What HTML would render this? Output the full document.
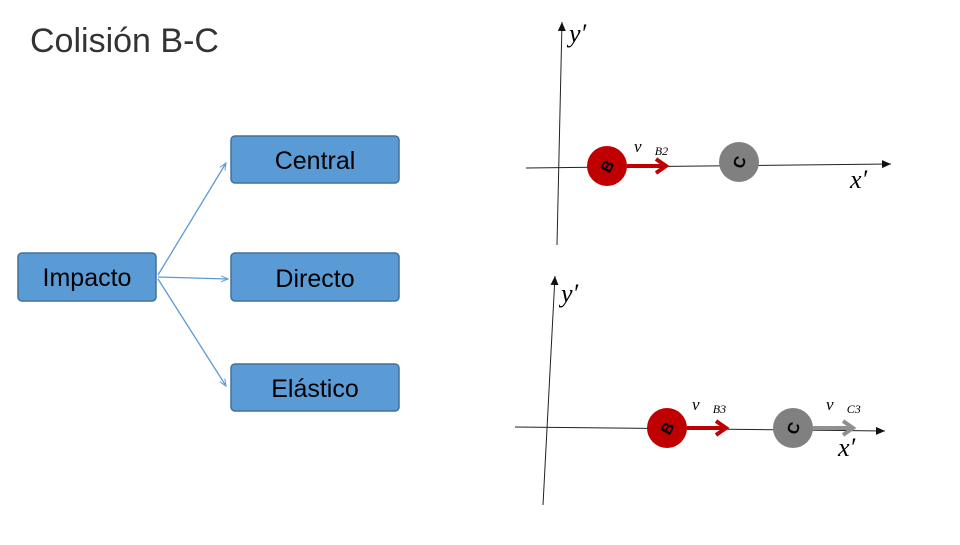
<!DOCTYPE html>
<html><head><meta charset="utf-8"><style>
body{margin:0;width:960px;height:540px;background:#fff;overflow:hidden;font-family:"Liberation Sans",sans-serif}
</style></head><body>
<svg width="960" height="540" viewBox="0 0 960 540" xmlns="http://www.w3.org/2000/svg">
<defs>
<marker id="a" markerWidth="8" markerHeight="8" refX="7" refY="4" orient="auto" markerUnits="userSpaceOnUse"><path d="M0,1 L7,4 L0,7" fill="none" stroke="#5b9bd5" stroke-width="1"/></marker>
<marker id="k" markerWidth="10" markerHeight="8" refX="9" refY="4" orient="auto" markerUnits="userSpaceOnUse"><path d="M0,0 L9,4 L0,8 Z" fill="#111"/></marker>
</defs>
<text x="30" y="52" font-size="34" fill="#333" font-family="Liberation Sans, sans-serif" font-weight="300">Colisión B-C</text>
<g stroke="#5b9bd5" stroke-width="1.3" fill="none">
<path d="M158,275 L226,163" marker-end="url(#a)"/>
<path d="M158,277 L228,279" marker-end="url(#a)"/>
<path d="M158,279 L226,386" marker-end="url(#a)"/>
</g>
<g fill="#5b9bd5" stroke="#41719c" stroke-width="1.5">
<rect x="231" y="136" width="168" height="47" rx="4"/>
<rect x="231" y="253" width="168" height="48" rx="4"/>
<rect x="231" y="364" width="168" height="47" rx="4"/>
<rect x="18" y="253" width="138" height="48" rx="4"/>
</g>
<g font-size="25" fill="#000" text-anchor="middle">
<text x="315" y="169">Central</text>
<text x="315" y="287">Directo</text>
<text x="315" y="397">Elástico</text>
<text x="87" y="286">Impacto</text>
</g>
<!-- top diagram -->
<g stroke="#222" stroke-width="1">
<line x1="557" y1="245" x2="562" y2="22" marker-end="url(#k)"/>
<line x1="526" y1="168" x2="891" y2="164" marker-end="url(#k)"/>
</g>
<circle cx="607" cy="166" r="20" fill="#c00000"/>
<path d="M627,166 L664,166 M656,159 L666,166 L656,173" stroke="#c00000" stroke-width="4" fill="none"/>
<circle cx="739" cy="162" r="20" fill="#808080"/>
<text x="607" y="172" font-size="16" font-weight="bold" text-anchor="middle" transform="rotate(-60 607 166)">B</text>
<text x="739" y="168" font-size="16" font-weight="bold" text-anchor="middle" transform="rotate(-70 739 162)">C</text>
<g font-family="Liberation Serif, serif" font-style="italic" fill="#000">
<text x="569" y="42" font-size="26">y′</text>
<text x="850" y="188" font-size="26">x′</text>
<text x="634" y="152" font-size="17">v⃗<tspan font-size="12" dy="3">B2</tspan></text>
</g>
<!-- bottom diagram -->
<g stroke="#222" stroke-width="1">
<line x1="543" y1="505" x2="555" y2="276" marker-end="url(#k)"/>
<line x1="515" y1="427" x2="885" y2="431" marker-end="url(#k)"/>
</g>
<circle cx="667" cy="428" r="20" fill="#c00000"/>
<path d="M687,428 L724,428 M716,421 L726,428 L716,435" stroke="#c00000" stroke-width="4" fill="none"/>
<circle cx="793" cy="428" r="20" fill="#808080"/>
<path d="M813,428 L851,428 M843,421 L853,428 L843,435" stroke="#909090" stroke-width="4" fill="none"/>
<text x="667" y="434" font-size="16" font-weight="bold" text-anchor="middle" transform="rotate(-60 667 428)">B</text>
<text x="793" y="434" font-size="16" font-weight="bold" text-anchor="middle" transform="rotate(-70 793 428)">C</text>
<g font-family="Liberation Serif, serif" font-style="italic" fill="#000">
<text x="561" y="302" font-size="26">y′</text>
<text x="838" y="456" font-size="26">x′</text>
<text x="692" y="410" font-size="17">v⃗<tspan font-size="12" dy="3">B3</tspan></text>
<text x="826" y="410" font-size="17">v⃗<tspan font-size="12" dy="3">C3</tspan></text>
</g>
</svg>
</body></html>
